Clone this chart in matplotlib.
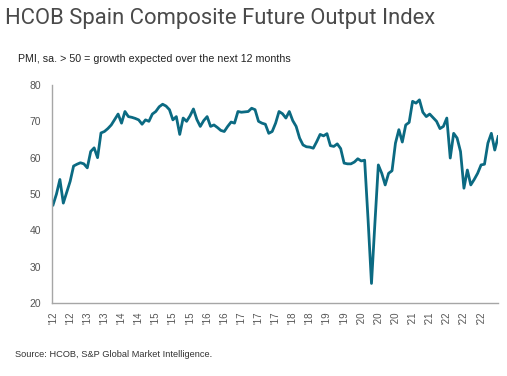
import matplotlib
matplotlib.use("Agg")
import matplotlib.pyplot as plt
import pandas as pd

# Monthly index values, Jul 2012 - May 2023
values = [
    47, 50, 54, 47.5, 50.5, 53.5, 57.7, 58.2, 58.6, 58.3, 57.2, 61.7,
    62.7, 60, 66.8, 67.2, 68, 69, 70.5, 72, 69.5, 72.7, 71.3,
    71.1, 70.8, 70.4, 69.2, 70.4, 70, 72, 72.7, 74, 74.7, 74.2, 73.2,
    70.4, 71.3, 66.4, 70.9, 70, 71.5, 73.4, 70.5, 68.6, 70.2,
    71.3, 68.6, 69, 68.3, 67.5, 67.2, 68.6, 69.8, 69.5, 72.7, 72.5,
    72.6, 72.7, 73.6, 73.2, 70, 69.5, 69.2, 66.7, 67.2, 69.5, 72.7,
    72.1, 70.9, 72.7, 70.2, 68.6, 65.4, 63.5, 63, 62.9, 62.6, 64.4,
    66.4, 66, 66.6, 63.3, 63.1, 63.8, 62.5, 58.5, 58.3, 58.3, 58.8,
    59.7, 59.1, 59.3, 43, 25.4, 42, 58, 55.7, 52.5, 55.7, 56.4, 64,
    67.7, 64.3, 69, 69.7, 75.5, 75, 75.9, 72.5, 71.3,
    72, 71, 70, 68, 68.6, 70.9, 59.9, 66.7, 65.4, 61.7, 51.6, 56.6,
    52.5, 54, 55.7, 58, 58.2, 64, 66.7, 62.1, 65.8,
]
dates = pd.date_range("2012-07-01", periods=len(values), freq="MS")
tick_step = 5
last_tick = "2022-12-01"
y_ticks = [20, 30, 40, 50, 60, 70, 80]

title = "HCOB Spain Composite Future Output Index"
subtitle = "PMI, sa. > 50 = growth expected over the next 12 months"
source = "Source: HCOB, S&P Global Market Intelligence."

plt.rcParams["font.family"] = ["Liberation Sans", "DejaVu Sans"]

fig = plt.figure(figsize=(5.07, 3.76), dpi=100)
ax = fig.add_axes([0.1026, 0.194, 0.880, 0.580])

idx = list(range(len(values)))
ax.plot(idx, values, color="#0b6a82", lw=2.0, solid_joinstyle="round")

ax.set_xlim(-0.3, len(values) - 1)
ax.set_ylim(20, 80)
ax.set_yticks(y_ticks)
ax.set_yticklabels([str(v) for v in y_ticks], color="#555555", fontsize=7.5)

# a label every 5 months, as in the original (last one Dec 2022)
xt = [i for i in idx[::tick_step] if dates[i] <= pd.Timestamp(last_tick)]
ax.set_xticks(xt)
ax.set_xticklabels(["'" + dates[i].strftime("%y") for i in xt],
                   rotation=90, color="#555555", fontsize=7)

ax.tick_params(axis="both", length=0)
ax.tick_params(axis="y", pad=8)
ax.tick_params(axis="x", pad=6)
for side in ["top", "right"]:
    ax.spines[side].set_visible(False)
for side in ["left", "bottom"]:
    ax.spines[side].set_color("#a6a6a6")
    ax.spines[side].set_linewidth(1.0)

fig.text(0.010, 0.950, title, fontsize=15.8, color="#4a4a4a", va="center",
         family=["Roboto", "DejaVu Sans"])
fig.text(0.036, 0.843, subtitle, fontsize=7.7, color="#222222", va="center")
fig.text(0.030, 0.058, source, fontsize=6.7, color="#333333", va="center")

fig.savefig("out.png", dpi=100)
